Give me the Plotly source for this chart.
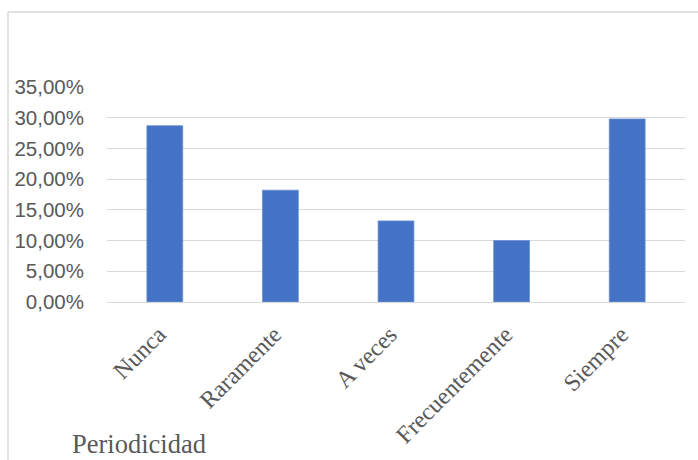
import plotly.graph_objects as go

# Survey response frequency by category
categorias = ["Nunca", "Raramente", "A veces", "Frecuentemente", "Siempre"]
porcentajes = [0.287, 0.182, 0.132, 0.100, 0.298]
ticks_y = [0.0, 0.05, 0.10, 0.15, 0.20, 0.25, 0.30, 0.35]

W, H = 698, 460
M_L, M_R, M_T, M_B = 107, 13, 87, 158
pw = W - M_L - M_R
ph = H - M_T - M_B

fig = go.Figure(
    go.Bar(
        x=categorias,
        y=porcentajes,
        marker=dict(color="#4472c4", line=dict(color="#6a8fd3", width=0.8)),
        width=0.31,
        hoverinfo="x+y",
    )
)

fig.update_layout(
    width=W,
    height=H,
    margin=dict(l=M_L, r=M_R, t=M_T, b=M_B, autoexpand=False),
    paper_bgcolor="white",
    plot_bgcolor="white",
    separators=",.",
    showlegend=False,
    bargap=0.69,
)

fig.update_yaxes(
    range=[0, 0.35],
    tickvals=ticks_y,
    tickformat=".2%",
    showgrid=True,
    gridcolor="#d9d9d9",
    gridwidth=1,
    zeroline=False,
    showline=False,
    ticks="",
    ticklabelstandoff=22,
    tickfont=dict(family="Liberation Sans, Arial, sans-serif", size=20.5, color="#595959"),
    automargin=False,
)

fig.update_xaxes(
    tickangle=-45,
    showline=True,
    linecolor="#d9d9d9",
    linewidth=1,
    ticks="",
    showgrid=False,
    ticklabelstandoff=8,
    ticklabelshift=-6,
    tickfont=dict(family="Liberation Serif, Times New Roman, serif", size=24, color="#595959"),
    automargin=False,
)

# Axis title placed at the lower left
fig.add_annotation(
    text="Periodicidad",
    xref="paper", yref="paper",
    x=(70 - M_L) / pw, y=(M_T + ph - 444) / ph,
    xanchor="left", yanchor="middle",
    showarrow=False,
    font=dict(family="Liberation Serif, Times New Roman, serif", size=26.5, color="#595959"),
)

# Chart-area frame (left and top edges)
bx = (8 - M_L) / pw
by = (M_T + ph - 12) / ph
fig.add_shape(type="line", xref="paper", yref="paper", x0=bx, x1=bx, y0=by, y1=-2,
              line=dict(color="#d9d9d9", width=1.5))
fig.add_shape(type="line", xref="paper", yref="paper", x0=bx, x1=2, y0=by, y1=by,
              line=dict(color="#d9d9d9", width=1.5))

fig.write_html("out.html")
